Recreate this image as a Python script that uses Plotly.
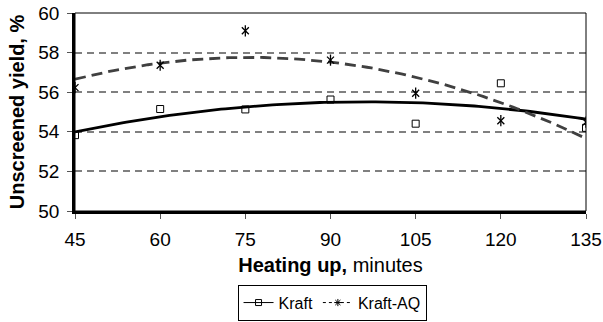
import numpy as np
import plotly.graph_objects as go

minutes = [45, 60, 75, 90, 105, 120, 135]
kraft = [53.83, 55.15, 55.13, 55.63, 54.41, 56.45, 54.20]
kraft_aq = [56.23, 57.36, 59.10, 57.62, 55.95, 54.56, 54.49]
x_ticks = [45, 60, 75, 90, 105, 120, 135]
y_ticks = [50, 52, 54, 56, 58, 60]

# polynomial (order 2) trendlines fitted to the data
xf = np.linspace(45, 135, 120)
fit_k = np.polyval(np.polyfit(minutes, kraft, 2), xf)
fit_aq = np.polyval(np.polyfit(minutes, kraft_aq, 2), xf)

font = "Liberation Sans, Arial, sans-serif"
fig = go.Figure()

fig.add_trace(go.Scatter(x=xf, y=fit_k, mode="lines", showlegend=False,
                         line=dict(color="black", width=2.8), hoverinfo="skip"))
fig.add_trace(go.Scatter(x=xf, y=fit_aq, mode="lines", showlegend=False,
                         line=dict(color="#404040", width=2.8, dash="11px,6px"), hoverinfo="skip"))

fig.add_trace(go.Scatter(x=minutes, y=kraft, mode="markers", showlegend=False,
                         marker=dict(symbol="square-open", size=7, color="black", line=dict(width=1))))
fig.add_trace(go.Scatter(x=minutes, y=kraft_aq, mode="markers", showlegend=False,
                         marker=dict(symbol="x-thin-open", size=7, color="black", line=dict(width=1.3))))
fig.add_trace(go.Scatter(x=minutes, y=kraft_aq, mode="markers", showlegend=False,
                         marker=dict(symbol="line-ns-open", size=8, color="black", line=dict(width=1.3))))

# legend-only entries
fig.add_trace(go.Scatter(x=[None], y=[None], mode="lines+markers", name="Kraft",
                         line=dict(color="black", width=1),
                         marker=dict(symbol="square-open", size=6, color="black", line=dict(width=1))))
fig.add_trace(go.Scatter(x=[None], y=[None], mode="lines+markers", name="Kraft-AQ",
                         line=dict(color="black", width=1, dash="3px,3px"),
                         marker=dict(symbol="asterisk-open", size=6, color="black", line=dict(width=1))))

fig.add_shape(type="rect", xref="paper", yref="paper", x0=0, y0=0, x1=1, y1=1,
              line=dict(color="black", width=1), layer="above")

fig.update_layout(
    width=603, height=322,
    margin=dict(l=75, r=17, t=13, b=111, autoexpand=False),
    paper_bgcolor="white", plot_bgcolor="white",
    font=dict(family=font, size=19, color="black"),
    showlegend=True,
    legend=dict(orientation="h", x=0.503, xanchor="center", y=-0.372, yanchor="top",
                bordercolor="black", borderwidth=1, font=dict(size=16),
                itemwidth=30, tracegroupgap=0),
    xaxis=dict(range=[45, 135], tickvals=x_ticks, ticks="outside", ticklen=5,
               tickcolor="#555", showline=True, linecolor="black", linewidth=2.5,
               showgrid=False, zeroline=False, ticklabelstandoff=4,
               title=dict(text="<b>Heating up,</b> minutes", standoff=10,
                          font=dict(size=20))),
    yaxis=dict(range=[50, 60], tickvals=y_ticks, ticks="outside", ticklen=5,
               tickcolor="#555", showline=True, linecolor="black", linewidth=2.5,
               showgrid=True, gridcolor="#808080", gridwidth=1.5, griddash="7px,5px",
               zeroline=False, ticklabelstandoff=4,
               title=dict(text="<b>Unscreened yield, %</b>", standoff=9,
                          font=dict(size=20))),
)

fig.write_html("out.html")
